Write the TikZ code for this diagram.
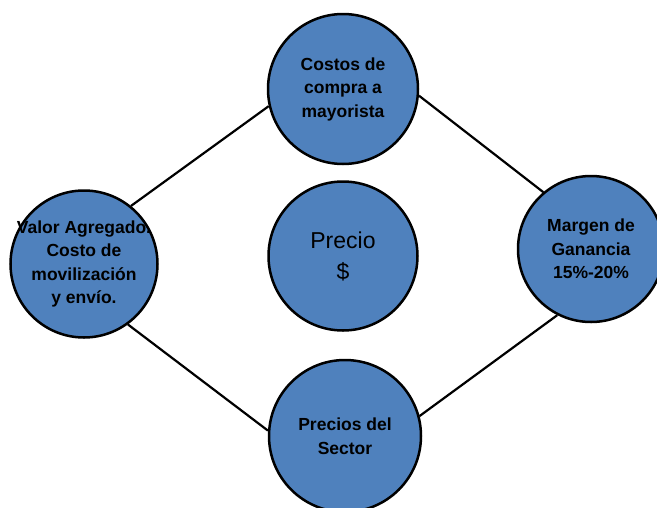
\documentclass[tikz,border=0pt]{standalone}
\usepackage{fontspec}
\setmainfont{Liberation Sans}
\definecolor{cblue}{HTML}{4F81BD}
\begin{document}
\begin{tikzpicture}[x=1pt,y=-1pt,
  circ/.style={circle,draw=black,line width=2.5pt,fill=cblue,minimum size=150pt,inner sep=0pt,align=center,
    font=\bfseries\fontsize{17.5}{23.5}\selectfont},
  link/.style={draw=black,line width=2.2pt}]
\useasboundingbox (0,0) rectangle (657,507);
\node[circ] (T) at (343,89) {Costos de\\compra a\\mayorista};
\node[circ,minimum size=147pt] (L) at (84,264) {};
\node[font=\bfseries\fontsize{17.5}{23.5}\selectfont,align=center] (Lt) at (L.center) {Valor Agregado.\\Costo de\\movilización\\y envío.};
\node[circ,minimum size=146pt] (R) at (591,249) {Margen de\\Ganancia\\15\%-20\%};
\node[circ,minimum size=152pt] (B) at (345,436) {Precios del\\Sector};
\node[circ,minimum size=149pt,font=\fontsize{23}{31}\selectfont] (C) at (343,256) {Precio\\\$};
\draw[link] (L.51) -- (T.193);
\draw[link] (T.355) -- (R.130);
\draw[link] (L.306) -- (B.176);
\draw[link] (B.15) -- (R.243);
\end{tikzpicture}
\end{document}
